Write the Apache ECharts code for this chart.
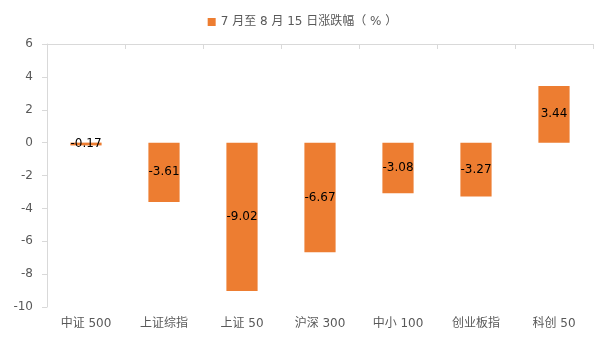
<!DOCTYPE html>
<html><head><meta charset="utf-8">
<script src="https://cdn.jsdelivr.net/npm/echarts@6/dist/echarts.min.js"></script>
<style>html,body{margin:0;padding:0;background:#fff}#c{width:605px;height:340px}</style>
</head><body><div id="c"></div>
<script>
const categories = ['中证 500','上证综指','上证 50','沪深 300','中小 100','创业板指','科创 50'];
const values = [-0.17, -3.61, -9.02, -6.67, -3.08, -3.27, 3.44];
const seriesName = '7 月至 8 月 15 日涨跌幅（ % ）';
const yTicks = {min: -10, max: 6, interval: 2};

const chart = echarts.init(document.getElementById('c'), null, {renderer: 'canvas'});
const font = '"DejaVu Sans", "Noto Sans CJK SC", sans-serif';
chart.setOption({
  animation: false,
  textStyle: {fontFamily: font},
  legend: {
    top: 11, left: 'center',
    itemWidth: 8, itemHeight: 8, icon: 'rect', itemGap: 4,
    textStyle: {color: '#595959', fontSize: 12, fontFamily: font},
    data: [seriesName]
  },
  grid: {left: 47, right: 12, top: 44, bottom: 33, containLabel: false},
  xAxis: [{
    type: 'category', data: categories, position: 'bottom',
    axisLine: {show: false}, axisTick: {show: false},
    axisLabel: {color: '#595959', fontSize: 12, margin: 11, fontFamily: font}
  }, {
    type: 'category', data: categories, position: 'top',
    axisLine: {show: true, onZero: true, lineStyle: {color: '#d9d9d9'}},
    axisTick: {show: true, inside: true, length: 5, lineStyle: {color: '#d9d9d9'}},
    axisLabel: {show: false}
  }],
  yAxis: {
    type: 'value', min: yTicks.min, max: yTicks.max, interval: yTicks.interval,
    splitLine: {show: false},
    axisLine: {show: true, lineStyle: {color: '#d9d9d9'}},
    axisTick: {show: true, length: 5, lineStyle: {color: '#d9d9d9'}},
    axisLabel: {color: '#595959', fontSize: 12, margin: 14, fontFamily: font}
  },
  series: [{
    name: seriesName, type: 'bar', xAxisIndex: 0, data: values,
    barWidth: '40%',
    itemStyle: {color: '#ED7D31'},
    label: {show: true, position: 'inside', color: '#000', fontSize: 12, fontFamily: font,
      formatter: p => p.value.toFixed(2)}
  }]
});
</script></body></html>
